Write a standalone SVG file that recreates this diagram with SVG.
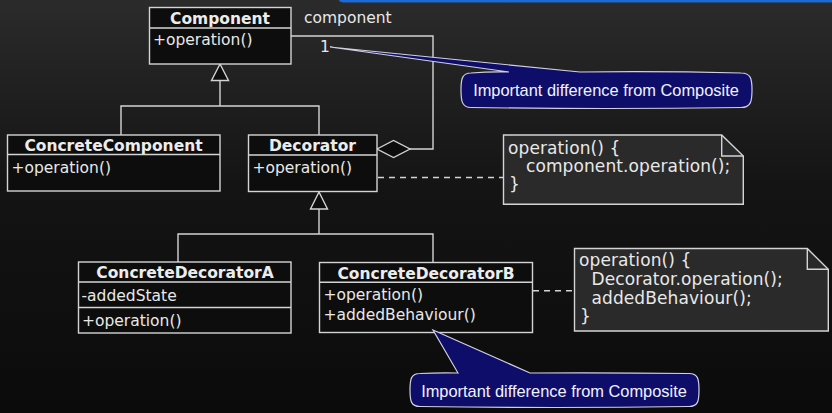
<svg xmlns="http://www.w3.org/2000/svg" width="832" height="413" viewBox="0 0 832 413">
<defs>
<linearGradient id="bg" x1="0" y1="0" x2="0" y2="1">
<stop offset="0" stop-color="#2b2b2b"/>
<stop offset="0.45" stop-color="#141414"/>
<stop offset="1" stop-color="#0b0b0b"/>
</linearGradient>
<style>
.box{fill:#0d0d0d;stroke:#d4d4d4;stroke-width:1.4}
.ln{fill:none;stroke:#d4d4d4;stroke-width:1.4}
.tri{fill:#0d0d0d;stroke:#d4d4d4;stroke-width:1.4}
.dash{fill:none;stroke:#d4d4d4;stroke-width:1.4;stroke-dasharray:6,5}
.note{fill:#2a2a2a;stroke:#d4d4d4;stroke-width:1.4}
.t{font-family:"DejaVu Sans",sans-serif;font-size:15.5px;fill:#e8e8e8}
.h{font-family:"DejaVu Sans",sans-serif;font-size:15.5px;font-weight:bold;fill:#ececec;text-anchor:middle}
.n{font-family:"DejaVu Sans",sans-serif;font-size:17px;letter-spacing:0.1px;fill:#e8e8e8}
.call{fill:#0e0e6a;stroke:#d0d0e0;stroke-width:1.2}
.ct{font-family:"Liberation Sans",Arial,sans-serif;font-size:16.4px;fill:#f2f2ff;text-anchor:middle}
</style>
</defs>
<rect x="0" y="0" width="832" height="413" fill="url(#bg)"/>
<rect x="338" y="-8" width="520" height="10.5" rx="5" fill="#1a6ad8"/>

<g id="connectors">
<polyline class="ln" points="121,135 121,106 319,106 319,135"/>
<line class="ln" x1="220" y1="106" x2="220" y2="80.5"/>
<polygon class="tri" points="220,64 211.5,80.5 228.5,80.5"/>
<polyline class="ln" points="178,262 178,234 433,234 433,262"/>
<line class="ln" x1="319" y1="234" x2="319" y2="209"/>
<polygon class="tri" points="319,192 310.5,209 327.5,209"/>
<polyline class="ln" points="291,36 433,36 433,149 410,149"/>
<polygon class="tri" points="377,149 393.5,140.5 410,149 393.5,157.5"/>
<line class="dash" x1="378" y1="177.5" x2="503" y2="177.5"/>
<line class="dash" x1="533" y1="290.7" x2="574" y2="290.7"/>
</g>
<text class="t" x="304" y="23">component</text>
<text class="t" x="320" y="51.5">1</text>

<g id="Component">
<rect class="box" x="149.5" y="7.5" width="141.5" height="56.5"/>
<line class="ln" x1="149.5" y1="28" x2="291" y2="28"/>
<text class="h" x="220" y="23.5">Component</text>
<text class="t" x="153" y="45">+operation()</text>
</g>

<g id="ConcreteComponent">
<rect class="box" x="7.5" y="135" width="212.5" height="56"/>
<line class="ln" x1="7.5" y1="154.5" x2="220" y2="154.5"/>
<text class="h" x="113.5" y="151">ConcreteComponent</text>
<text class="t" x="11.5" y="173">+operation()</text>
</g>

<g id="Decorator">
<rect class="box" x="248.5" y="135" width="128.5" height="56.5"/>
<line class="ln" x1="248.5" y1="155" x2="377" y2="155"/>
<text class="h" x="312.5" y="151">Decorator</text>
<text class="t" x="252.5" y="173">+operation()</text>
</g>

<g id="ConcreteDecoratorA">
<rect class="box" x="78.5" y="262" width="212.5" height="71"/>
<line class="ln" x1="78.5" y1="282" x2="291" y2="282"/>
<line class="ln" x1="78.5" y1="307.5" x2="291" y2="307.5"/>
<text class="h" x="185" y="278">ConcreteDecoratorA</text>
<text class="t" x="81.5" y="300.5">-addedState</text>
<text class="t" x="82" y="326">+operation()</text>
</g>

<g id="ConcreteDecoratorB">
<rect class="box" x="319.5" y="262.5" width="213" height="70"/>
<line class="ln" x1="319.5" y1="282.3" x2="532.5" y2="282.3"/>
<text class="h" x="426" y="278.5">ConcreteDecoratorB</text>
<text class="t" x="323.5" y="300">+operation()</text>
<text class="t" x="323.5" y="320">+addedBehaviour()</text>
</g>

<g id="Note1">
<path class="note" d="M503.5,135 L721.7,135 L743.3,156 L743.3,204.3 L503.5,204.3 Z"/>
<polyline class="ln" points="721.7,135 721.7,156 743.3,156"/>
<text class="n" x="508" y="154">operation() {</text>
<text class="n" x="526" y="172">component.operation();</text>
<text class="n" x="509" y="190">}</text>
</g>

<g id="Note2">
<path class="note" d="M574.5,248.5 L807.3,248.5 L828.3,269.3 L828.3,331 L574.5,331 Z"/>
<polyline class="ln" points="807.3,248.5 807.3,269.3 828.3,269.3"/>
<text class="n" x="579" y="266">operation() {</text>
<text class="n" x="591.5" y="284.5">Decorator.operation();</text>
<text class="n" x="591.5" y="303.5">addedBehaviour();</text>
<text class="n" x="580" y="321.5">}</text>
</g>

<g id="Callout1">
<path class="call" d="M471,73 Q490,71.5 509,72 L330,47 L580,72 Q660,71 741,73 C751,73 752,79 752,90 C752,101 751,107.5 741,107.5 Q606,109.5 471,107.5 C462,107.5 461,101 461,90 C461,79 462,73 471,73 Z"/>
<text class="ct" x="606" y="96">Important difference from Composite</text>
</g>

<g id="Callout2">
<path class="call" d="M420,373.5 Q439,372.5 458,373 L433,330 L530,373 Q609,372.5 689,373.5 C698,373.5 699,379 699,390 C699,401 698,406.5 689,406.5 Q554.5,408.5 420,406.5 C411,406.5 410,401 410,390 C410,379 411,373.5 420,373.5 Z"/>
<text class="ct" x="554" y="397">Important difference from Composite</text>
</g>
</svg>
